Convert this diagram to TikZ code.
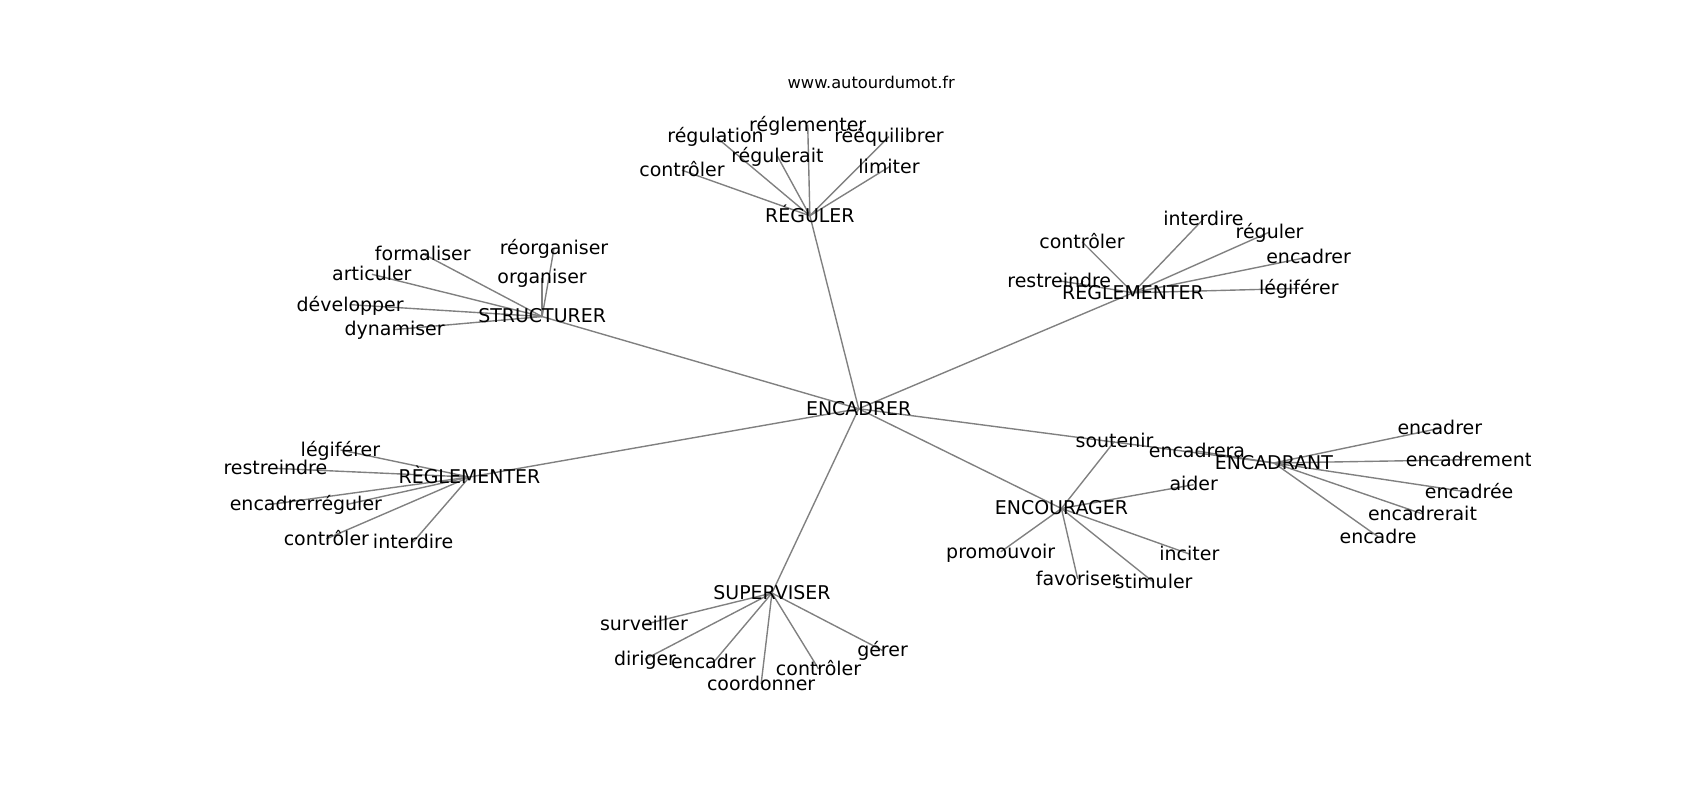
\documentclass[tikz,border=0pt]{standalone}
\usepackage{fontspec}
\setmainfont{DejaVu Sans}
\usetikzlibrary{backgrounds}
\definecolor{edgegray}{RGB}{128,128,128}
\tikzset{
  lbl/.style={font=\fontsize{13.65}{16}\selectfont, text height=11.4pt, text depth=2.25pt, inner sep=0pt, anchor=center},
  link/.style={draw=edgegray, line width=1pt},
}
\begin{document}
\begin{tikzpicture}[x=0.78061pt,y=-0.78061pt]
\useasboundingbox (0,0) rectangle (1568,737.9);
\node[font=\fontsize{11.7}{14}\selectfont, inner sep=0pt, anchor=base] (title) at (803.6,81.5) {www.autourdumot.fr};
\begin{scope}
\clip (196,88.5) rectangle (1411.2,656.7);
% hubs
\node[lbl] (enc) at (792,377) {ENCADRER};
\node[lbl] (reg) at (747,199) {RÉGULER};
\node[lbl] (str) at (500,292) {STRUCTURER};
\node[lbl] (rgR) at (1045,270) {RÉGLEMENTER};
\node[lbl] (rgL) at (433,440) {RÈGLEMENTER};
\node[lbl] (sup) at (712,547) {SUPERVISER};
\node[lbl] (ecg) at (979,469) {ENCOURAGER};
\node[lbl] (ecd) at (1175,427) {ENCADRANT};
% REGULER leaves
\node[lbl] (r1) at (629,157) {contrôler};
\node[lbl] (r2) at (660,126) {régulation};
\node[lbl] (r3) at (745,115) {réglementer};
\node[lbl] (r4) at (717,144) {régulerait};
\node[lbl] (r5) at (820,126) {rééquilibrer};
\node[lbl] (r6) at (820,154) {limiter};
% STRUCTURER leaves
\node[lbl] (s1) at (390,234) {formaliser};
\node[lbl] (s2) at (511,229) {réorganiser};
\node[lbl] (s3) at (343,253) {articuler};
\node[lbl] (s4) at (500,256) {organiser};
\node[lbl] (s5) at (323,281) {développer};
\node[lbl] (s6) at (364,304) {dynamiser};
% right REGLEMENTER leaves
\node[lbl] (a1) at (998,223) {contrôler};
\node[lbl] (a2) at (1110,202) {interdire};
\node[lbl] (a3) at (1171,214) {réguler};
\node[lbl] (a4) at (1207,237) {encadrer};
\node[lbl] (a5) at (1198,266) {légiférer};
\node[lbl] (a6) at (977,259) {restreindre};
% left REGLEMENTER leaves
\node[lbl] (b1) at (314,415) {légiférer};
\node[lbl] (b2) at (254,432) {restreindre};
\node[lbl] (b3) at (251,465) {encadrer};
\node[lbl] (b4) at (321,465) {réguler};
\node[lbl] (b5) at (301,497) {contrôler};
\node[lbl] (b6) at (381,500) {interdire};
% ENCOURAGER leaves
\node[lbl] (c1) at (1028,407) {soutenir};
\node[lbl] (c2) at (1101,447) {aider};
\node[lbl] (c3) at (923,509) {promouvoir};
\node[lbl] (c4) at (1097,511) {inciter};
\node[lbl] (c5) at (994,534) {favoriser};
\node[lbl] (c6) at (1064,537) {stimuler};
% ENCADRANT leaves
\node[lbl] (d1) at (1104,416) {encadrera};
\node[lbl] (d2) at (1328,395) {encadrer};
\node[lbl] (d3) at (1355,424) {encadrement};
\node[lbl] (d4) at (1355,454) {encadrée};
\node[lbl] (d5) at (1312,474) {encadrerait};
\node[lbl] (d6) at (1271,495) {encadre};
% SUPERVISER leaves
\node[lbl] (e1) at (594,576) {surveiller};
\node[lbl] (e2) at (595,608) {diriger};
\node[lbl] (e3) at (658,611) {encadrer};
\node[lbl] (e4) at (702,631) {coordonner};
\node[lbl] (e5) at (755,617) {contrôler};
\node[lbl] (e6) at (814,600) {gérer};
\end{scope}
\begin{scope}[on background layer]
\foreach \h in {reg,str,rgR,rgL,sup,ecg,ecd} \draw[link] (enc.center) -- (\h.center);
\foreach \l in {r1,r2,r3,r4,r5,r6} \draw[link] (reg.center) -- (\l.center);
\foreach \l in {s1,s2,s3,s4,s5,s6} \draw[link] (str.center) -- (\l.center);
\foreach \l in {a1,a2,a3,a4,a5,a6} \draw[link] (rgR.center) -- (\l.center);
\foreach \l in {b1,b2,b3,b4,b5,b6} \draw[link] (rgL.center) -- (\l.center);
\foreach \l in {c1,c2,c3,c4,c5,c6} \draw[link] (ecg.center) -- (\l.center);
\foreach \l in {d1,d2,d3,d4,d5,d6} \draw[link] (ecd.center) -- (\l.center);
\foreach \l in {e1,e2,e3,e4,e5,e6} \draw[link] (sup.center) -- (\l.center);
\end{scope}
\end{tikzpicture}
\end{document}
